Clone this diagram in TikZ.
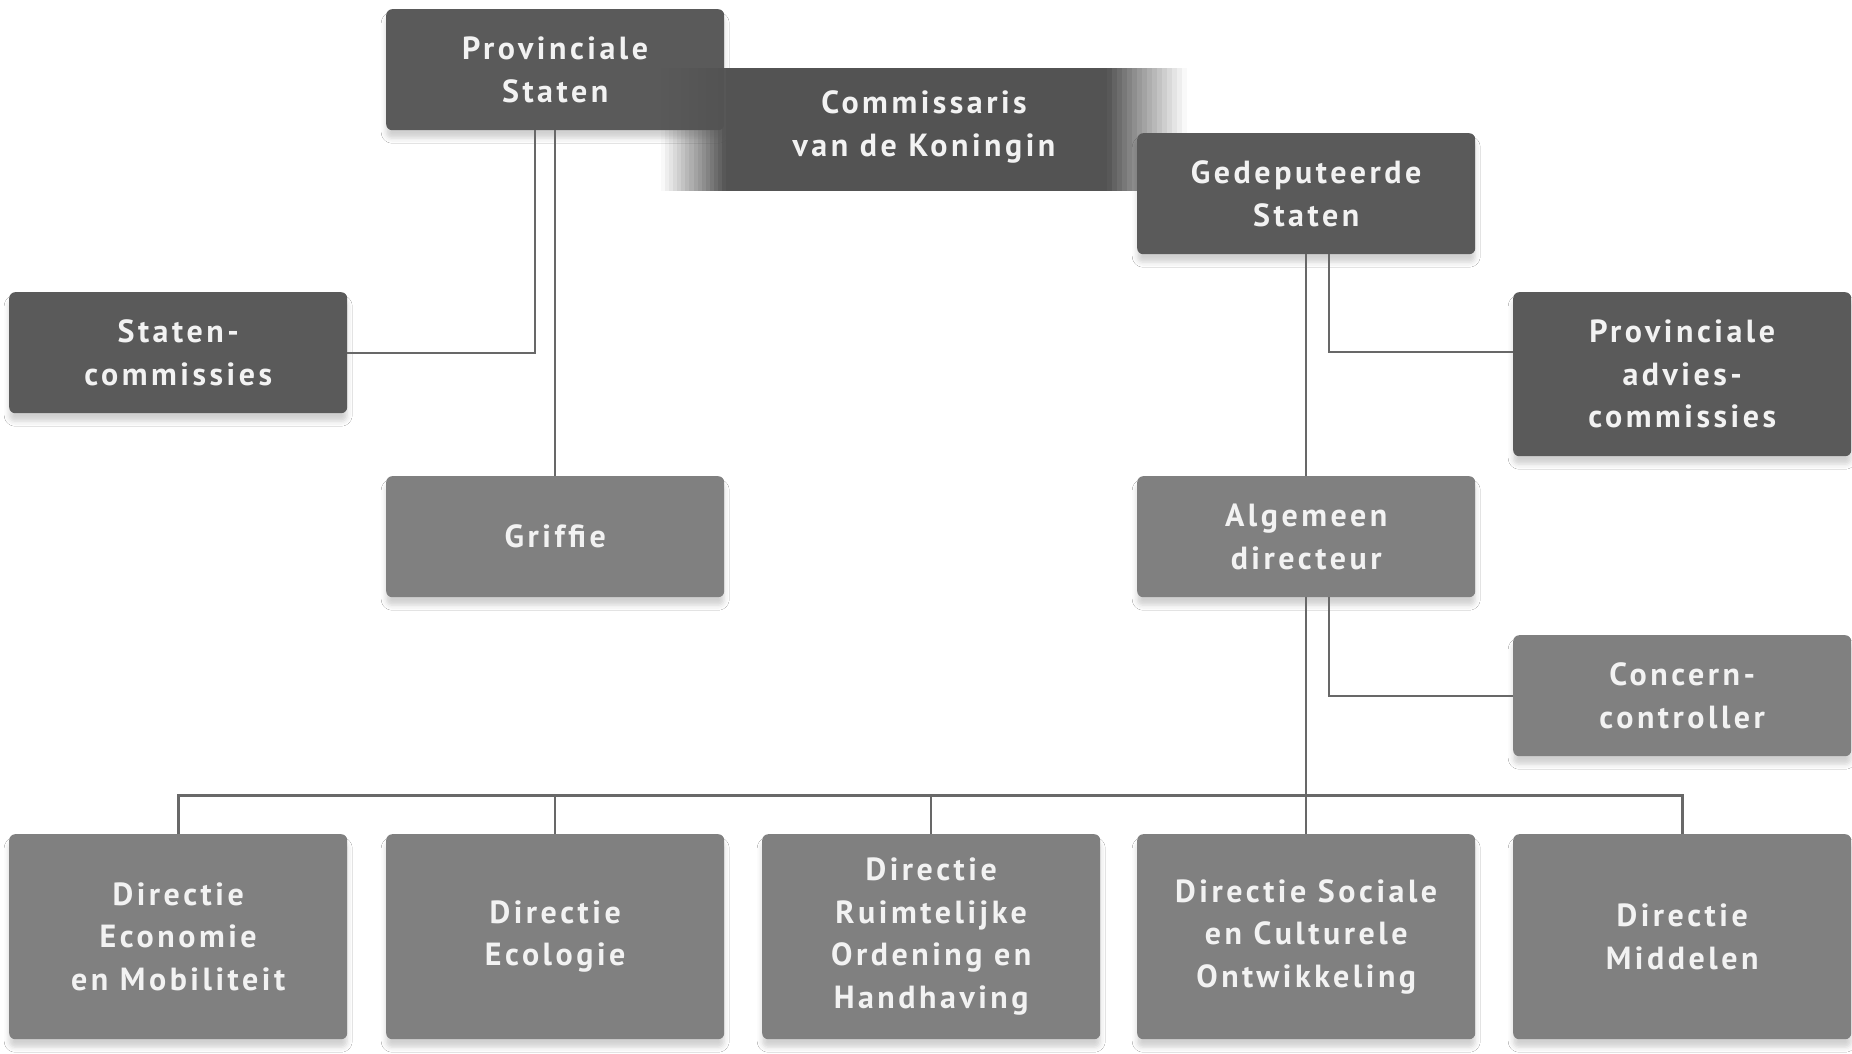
\documentclass[tikz,border=0pt]{standalone}
\usepackage{fontspec}
\setmainfont{PT Sans}[LetterSpace=11]
\usetikzlibrary{shadows.blur}
\definecolor{boxdark}{HTML}{5A5A5A}
\definecolor{boxlight}{HTML}{808080}
\definecolor{bandc}{HTML}{535353}
\definecolor{wire}{HTML}{686868}
\definecolor{label}{HTML}{F2F2F2}
\tikzset{
  labelfont/.style={text=label, align=center, font=\fontsize{32}{42.5}\selectfont\bfseries},
  orgbox/.style={rectangle, rounded corners=6pt, inner sep=0pt, anchor=north west,
    minimum width=338pt, minimum height=121pt, labelfont,
    blur shadow={shadow xshift=0pt, shadow yshift=-8pt, shadow blur radius=5pt, shadow opacity=18}},
  darkbox/.style={orgbox, fill=boxdark},
  lightbox/.style={orgbox, fill=boxlight},
  dirbox/.style={lightbox, minimum height=205pt},
  wireline/.style={draw=wire, line width=2.2pt},
  busline/.style={draw=wire, line width=3pt},
}
\begin{document}
\begin{tikzpicture}[x=1pt, y=-1pt]
  \fill[white] (0,0) rectangle (1852,1054);
  \useasboundingbox (0,0) rectangle (1852,1054);

  % top row
  \node[darkbox] (ps) at (386,9) {Provinciale\\Staten};

  % Commissaris band with soft ends
  \fill[bandc] (726,68) rectangle (1107,191);
  \foreach \i in {0,...,15} {
    \pgfmathsetmacro{\op}{(\i+0.5)/16}
    \fill[bandc, opacity=\op] ({661+\i*65/16},68) rectangle ({661+(\i+1)*65/16},191);
    \pgfmathsetmacro{\opr}{1-(\i+0.5)/16}
    \fill[bandc, opacity=\opr] ({1107+\i*80/16},68) rectangle ({1107+(\i+1)*80/16},191);
  }
  \node[labelfont] (kdk) at (924,127) {Commissaris\\van de Koningin};

  \node[darkbox] (gs) at (1137,133) {Gedeputeerde\\Staten};

  % second level
  \node[darkbox] (sc) at (9,292) {Staten-\\commissies};
  \node[darkbox, minimum height=164pt] (pac) at (1513,292) {Provinciale\\advies-\\commissies};
  \node[lightbox] (gr) at (386,476) {Griffie};
  \node[lightbox] (ad) at (1137,476) {Algemeen\\directeur};
  \node[lightbox] (cc) at (1513,635) {Concern-\\controller};

  % directorates
  \node[dirbox] (d1) at (9,834) {Directie\\Economie\\en Mobiliteit};
  \node[dirbox] (d2) at (386,834) {Directie\\Ecologie};
  \node[dirbox] (d3) at (762,834) {Directie\\Ruimtelijke\\Ordening en\\Handhaving};
  \node[dirbox] (d4) at (1137,834) {Directie Sociale\\en Culturele\\Ontwikkeling};
  \node[dirbox] (d5) at (1513,834) {Directie\\Middelen};

  % connectors
  \draw[wireline] ([xshift=-20pt]ps.south) |- (sc.east);
  \draw[wireline] (ps.south) -- (gr.north);
  \draw[wireline] ([xshift=23pt]gs.south) |- ([yshift=-60pt]pac.north west);
  \draw[wireline] (gs.south) -- (ad.north);
  \draw[wireline] ([xshift=23pt]ad.south) |- (cc.west);
  \draw[wireline] (ad.south) -- (d4.north);
  \draw[busline] (d1.north) -- ++(0,-39) -| (d5.north);
  \draw[wireline] (d2.north) -- ++(0,-39);
  \draw[wireline] (d3.north) -- ++(0,-39);
\end{tikzpicture}
\end{document}
